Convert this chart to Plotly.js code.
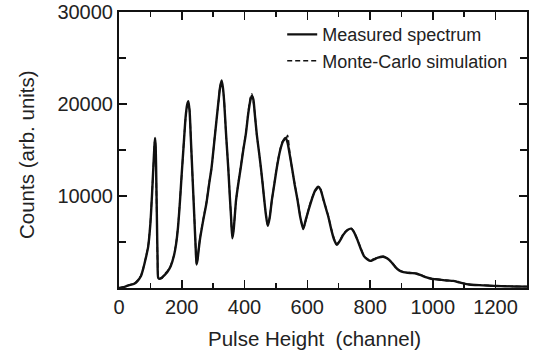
<!DOCTYPE html>
<html>
<head>
<meta charset="utf-8">
<script src="https://cdn.plot.ly/plotly-3.0.1.min.js"></script>
<style>html,body{margin:0;padding:0;background:#fff;}#chart{width:535px;height:356px;}</style>
</head>
<body>
<div id="chart"></div>
<script>
// Pulse-height channels (shared by both series)
const channels = [0,10,20,30,40,50,60,70,78,85,93,100,105,110,113,115,117,119,121,123,125,130,137,145,155,165,175,182,188,194,200,206,212,217,221,225,229,233,237,240,244,247,250,254,258,268,279,288,295,306,317,322,327,331,335,341,348,353,357,361,365,373,380,388,396,404,412,418,423,428,433,439,446,452,458,463,468,474,480,487,495,503,513,522,531,537,544,551,560,569,577,587,595,605,615,625,635,642,650,658,667,676,685,694,705,715,728,740,750,760,770,780,790,800,812,825,842,855,868,880,893,906,920,935,949,965,980,995,1010,1023,1044,1065,1080,1097,1115,1135,1160,1185,1204,1230,1260,1300];

// Measured spectrum counts
const measured = [0,60,150,280,380,480,800,1300,2200,3200,4500,7000,10000,13500,15500,16300,15200,11500,7000,3000,1100,1000,1150,1400,1800,2400,3500,4800,6600,9300,12500,15500,18500,19900,20300,19200,16200,13100,10000,7700,4600,2550,3000,4200,5300,7300,9300,11500,13100,16700,20300,21800,22550,21800,20300,16800,13100,10000,7740,5400,6200,9540,11300,13100,15000,16700,19000,20300,20900,20500,18800,16700,14800,13100,11200,9540,8000,6750,7600,9540,11300,13100,14900,15900,16300,15800,14500,13100,11200,9540,7800,6400,7400,8600,9700,10600,11000,10700,9800,8800,7740,6400,5300,4700,5200,5800,6300,6450,6000,5200,4300,3500,3150,2950,3100,3300,3400,3200,2800,2300,1900,1720,1650,1620,1550,1350,1150,1000,950,900,820,770,650,500,380,330,290,250,220,195,170,150];

// Monte-Carlo simulation counts
const simulated = [0,80,170,300,400,520,850,1350,2250,3250,4600,7100,10100,13400,15600,16200,15000,11000,6500,2800,1300,1100,1050,1500,1850,2450,3550,4900,6700,9400,12400,15600,18400,19700,20000,19300,16100,13000,10100,7800,4700,2600,3100,4300,5400,7400,9400,11600,13000,16800,20200,21900,22300,21700,20400,16700,13200,10100,7800,5500,6300,9500,11400,13200,15100,16800,19200,20600,21100,20300,18900,16600,14900,13000,11300,9500,8100,6800,7700,9500,11400,13200,15000,16000,16100,16600,14700,13000,11300,9600,7900,6500,7300,8700,9800,10500,10900,10800,9700,8900,7800,6500,5400,4750,5250,5900,6300,6500,6050,5250,4350,3550,3200,3000,3150,3350,3450,3250,2850,2350,1950,1750,1680,1650,1560,1380,1170,1020,960,910,830,780,660,510,390,340,300,255,225,200,175,155];

const xTicks = [0,200,400,600,800,1000,1200];
const xMinor = [100,300,500,700,900,1100];
const yTicks = [0,10000,20000,30000];
const yTickText = ['','10000','20000','30000'];
const yMinor = [5000,15000,25000];

const font = '"Liberation Sans", Arial, Helvetica, sans-serif';

const traces = [
  {x: channels, y: measured, type: 'scatter', mode: 'lines', name: 'Measured spectrum',
   line: {color: '#111', width: 2.4, shape: 'spline', smoothing: 0.6}},
  {x: channels, y: simulated, type: 'scatter', mode: 'lines', name: 'Monte-Carlo simulation',
   line: {color: '#111', width: 1.6, dash: '5px,3px', shape: 'spline', smoothing: 0.6}}
];

const axisCommon = {
  ticks: 'inside', tickcolor: '#111', tickwidth: 1.5, ticklen: 8,
  showline: true, linecolor: '#111', linewidth: 2, mirror: 'allticks',
  showgrid: false, zeroline: false, ticklabeloverflow: 'allow',
  tickfont: {family: font, size: 20, color: '#222'}
};

const layout = {
  width: 535, height: 356,
  margin: {l: 119, r: 8, t: 12, b: 68, pad: 0},
  paper_bgcolor: '#fff', plot_bgcolor: '#fff',
  showlegend: true,
  legend: {x: 0.40, y: 0.985, xanchor: 'left', yanchor: 'top',
           bgcolor: 'rgba(0,0,0,0)', borderwidth: 0,
           font: {family: font, size: 18, color: '#222'}, tracegroupgap: 0},
  xaxis: Object.assign({}, axisCommon, {
    range: [0, 1300], tickmode: 'array', tickvals: xTicks,
    minor: {tickmode: 'array', tickvals: xMinor, ticks: 'inside', ticklen: 5, tickwidth: 1.5, tickcolor: '#111', showgrid: false}
  }),
  yaxis: Object.assign({}, axisCommon, {
    range: [0, 30000], tickmode: 'array', tickvals: yTicks, ticktext: yTickText,
    minor: {tickmode: 'array', tickvals: yMinor, ticks: 'inside', ticklen: 7, tickwidth: 1.5, tickcolor: '#111', showgrid: false}
  }),
  annotations: [
    {text: 'Pulse Height  (channel)', xref: 'paper', yref: 'paper', x: (314 - 119) / 408, y: (288 - 338) / 276,
     xanchor: 'center', yanchor: 'middle', showarrow: false, font: {family: font, size: 20.5, color: '#222'}},
    {text: 'Counts (arb. units)', xref: 'paper', yref: 'paper', x: (26 - 119) / 408, y: (288 - 155) / 276,
     xanchor: 'center', yanchor: 'middle', textangle: -90, showarrow: false, font: {family: font, size: 20.5, color: '#222'}}
  ]
};

Plotly.newPlot('chart', traces, layout, {staticPlot: true, displayModeBar: false});
</script>
</body>
</html>
